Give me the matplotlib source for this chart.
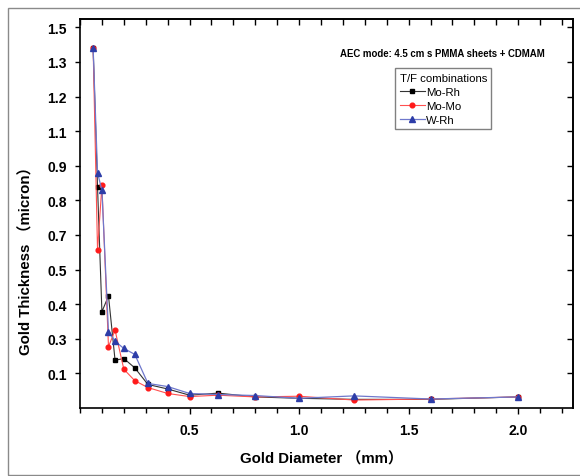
import matplotlib
matplotlib.use("Agg")
import matplotlib.pyplot as plt
from matplotlib.patches import Rectangle
from matplotlib.ticker import MultipleLocator, FixedLocator, FixedFormatter

plt.rcParams['font.family'] = ['Liberation Sans', 'Noto Sans CJK SC', 'DejaVu Sans']

# Gold disc diameters (mm)
diameter = [0.06, 0.08, 0.10, 0.13, 0.16, 0.20, 0.25, 0.31, 0.40, 0.50,
            0.63, 0.80, 1.00, 1.25, 1.60, 2.00]

# Values on the plotted (evenly spaced) vertical scale
mo_rh = [1.039, 0.639, 0.278, 0.324, 0.138, 0.143, 0.116, 0.068, 0.055, 0.037,
         0.043, 0.032, 0.028, 0.025, 0.025, 0.032]
mo_mo = [1.039, 0.456, 0.643, 0.177, 0.225, 0.112, 0.079, 0.059, 0.042, 0.033,
         0.037, 0.032, 0.034, 0.023, 0.026, 0.032]
w_rh = [1.039, 0.680, 0.629, 0.220, 0.193, 0.172, 0.155, 0.071, 0.062, 0.042,
        0.039, 0.036, 0.028, 0.035, 0.026, 0.032]

series_names = ["Mo-Rh", "Mo-Mo", "W-Rh"]

# y tick positions and the labels printed at them
ytick_pos = [0.1, 0.2, 0.3, 0.4, 0.5, 0.6, 0.7, 0.8, 0.9, 1.0, 1.1]
ytick_labels = ["0.1", "0.3", "0.4", "0.5", "0.7", "0.8", "0.9", "1.1", "1.2", "1.3", "1.5"]
xtick_pos = [0.5, 1.0, 1.5, 2.0]
xtick_labels = ["0.5", "1.0", "1.5", "2.0"]

W, H = 580, 477
fig = plt.figure(figsize=(W / 100, H / 100), dpi=100)
ax = fig.add_axes([80 / W, 1 - 409 / H, (573 - 80) / W, (409 - 20) / H])

# outer frame
fig.patches.append(Rectangle((8 / W, 1 / H), 1.2, 1 - 10 / H, transform=fig.transFigure,
                             fill=False, edgecolor="#8a8a8a", linewidth=1.0))

ax.plot(diameter, mo_rh, color="#333333", lw=0.8, marker="s", ms=3.2,
        mfc="black", mec="black", label=series_names[0])
ax.plot(diameter, mo_mo, color="#ff5050", lw=0.8, marker="o", ms=3.4,
        mfc="#ff1a1a", mec="#ff1a1a", label=series_names[1])
ax.plot(diameter, w_rh, color="#6f78cc", lw=0.9, marker="^", ms=4.2,
        mfc="#2d3da8", mec="#2d3da8", label=series_names[2])

ax.set_xlim(0, 2.25)
ax.set_ylim(0.0, 1.124)

ax.xaxis.set_major_locator(FixedLocator(xtick_pos))
ax.xaxis.set_major_formatter(FixedFormatter(xtick_labels))
ax.xaxis.set_minor_locator(MultipleLocator(0.1))
ax.yaxis.set_major_locator(FixedLocator(ytick_pos))
ax.yaxis.set_major_formatter(FixedFormatter(ytick_labels))

for s in ax.spines.values():
    s.set_linewidth(1.2)

ax.tick_params(axis="both", which="both", width=1.0, labelsize=10)
ax.tick_params(axis="x", which="major", direction="out", length=4.5, pad=6.5)
ax.tick_params(axis="x", which="minor", direction="out", length=3.5)
ax.tick_params(axis="y", which="major", direction="out", length=3.5, pad=6.0)
for lab in ax.get_xticklabels() + ax.get_yticklabels():
    lab.set_fontweight("bold")

# inward ticks on top and right
sec_x = ax.secondary_xaxis("top")
sec_x.xaxis.set_major_locator(FixedLocator(xtick_pos))
sec_x.xaxis.set_minor_locator(MultipleLocator(0.1))
sec_x.tick_params(which="both", direction="in", length=4, width=1.0, labeltop=False)
sec_x.spines["top"].set_linewidth(1.2)
sec_y = ax.secondary_yaxis("right")
sec_y.yaxis.set_major_locator(FixedLocator(ytick_pos))
sec_y.tick_params(which="both", direction="in", length=4.5, width=1.0, labelright=False)
sec_y.spines["right"].set_linewidth(1.2)

fig.text(321 / W, 1 - 459 / H, "Gold Diameter （mm）", ha="center", va="center",
         fontsize=10.8, fontweight="bold")
fig.text(26 / W, 1 - 257 / H, "Gold Thickness （micron）", ha="center", va="center",
         rotation=90, fontsize=10.8, fontweight="bold")

ax.text((340 - 80) / 493, (409 - 54) / 389, "AEC mode: 4.5 cm s PMMA sheets + CDMAM",
        transform=ax.transAxes, ha="left", va="center", fontsize=6.9, fontweight="bold")

leg = ax.legend(loc="upper left", bbox_to_anchor=((395 - 80) / 493, (409 - 69.3) / 389),
                borderaxespad=0, title="T/F combinations", fontsize=8.2, title_fontsize=8.2,
                fancybox=False, edgecolor="#808080", framealpha=1, handlelength=2.2,
                handletextpad=0.15, labelspacing=0.35, borderpad=0.4, alignment="left")
leg.get_frame().set_linewidth(1.0)

fig.savefig("out.png", dpi=100)
